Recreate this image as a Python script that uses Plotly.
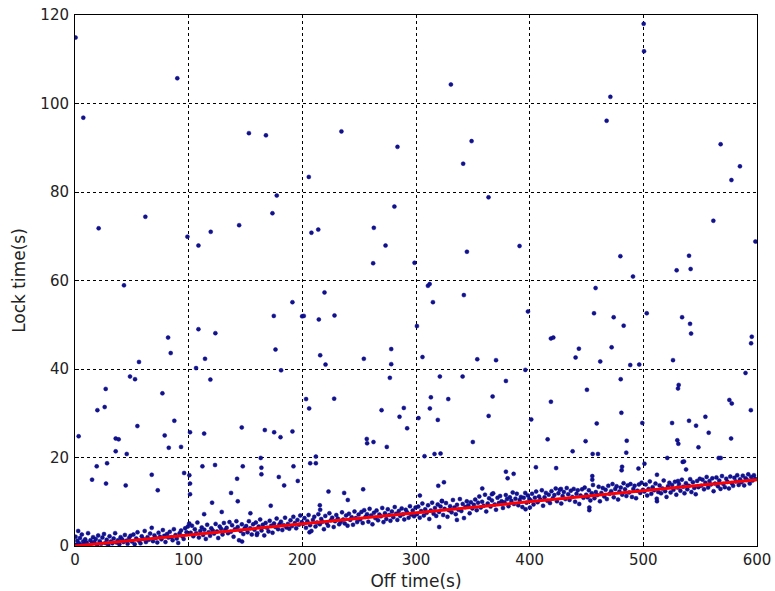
import plotly.graph_objects as go

# ---- outlier points ----
high_x = [0.5, 90, 7.3, 153, 168, 205.7, 177.5, 173.7, 61.9, 144.4, 20.8, 119.4, 98.9, 108.6, 208, 214,
          330.7, 234.4, 283.7, 348.9, 341.5, 363.8, 281, 262.9, 273.2, 262.3, 298.7, 344.8, 391.1,
          500.3, 500.6, 471, 467.7, 568, 585, 577.5, 561.6, 598.6, 479.8, 540.2, 529.3, 541.6, 490.9]
high_y = [114.9, 105.7, 96.8, 93.3, 92.8, 83.4, 79.2, 75.2, 74.4, 72.5, 71.8, 71.0, 69.9, 67.9, 70.8, 71.5,
          104.3, 93.7, 90.2, 91.5, 86.4, 78.8, 76.7, 71.9, 67.9, 63.9, 64.0, 66.5, 67.8,
          118.0, 111.8, 101.5, 96.1, 90.8, 85.8, 82.7, 73.5, 68.8, 65.5, 65.6, 62.3, 62.6, 60.9]

mid_x = [43.1, 191.3, 174.9, 108.6, 81.9, 123.5, 176.4, 84.2, 56.3, 114.4, 106.5, 48.4, 52.8, 181.3, 119.1,
         27.0, 76.9, 26.1, 19.7, 87.4, 54.9, 146.7, 3.2, 101.2, 78.9, 113.6, 167.0, 175.2, 191.3, 180.8,
         35.8, 38.4, 82.5, 93.3, 35.8, 45.5, 163.4,
         219.5, 199.8, 201.3, 214.5, 228.3, 310.5, 312.0, 342.1, 314.9, 398.5, 300.8, 278.2, 215.7, 254.1,
         220.4, 278.2, 305.7, 353.9, 370.4, 396.2, 277.0, 321.0, 341.0, 379.1, 203.3, 228.0, 313.1, 328.4,
         367.4, 206.0, 269.7, 289.3, 312.2, 285.5, 302.2, 319.2, 363.9, 292.2, 256.7, 257.0, 262.6, 274.3,
         350.0, 307.5, 316.3, 321.6, 211.9, 206.9, 211.9,
         458.0, 456.6, 503.0, 473.9, 482.7, 418.7, 420.8, 534.1, 541.1, 542.0, 595.4, 594.8, 443.3, 472.1,
         440.4, 462.1, 526.1, 488.5, 496.4, 589.9, 480.1, 531.1, 530.5, 450.4, 418.7, 575.7, 577.8, 594.6,
         480.7, 401.4, 554.6, 459.0, 499.1, 525.3, 540.2, 546.4, 557.5, 415.8, 449.2, 485.4, 529.9, 530.8,
         577.2, 548.5, 437.8, 455.4, 460.1, 485.0, 521.1, 566.3, 568.1, 501.0, 534.6, 535.8, 405.5, 423.3,
         481.3, 495.7, 537.6]
mid_y = [58.9, 55.1, 52.0, 49.0, 47.1, 48.1, 44.4, 43.6, 41.6, 42.3, 40.2, 38.3, 37.7, 39.7, 37.6,
         35.5, 34.5, 31.4, 30.7, 28.3, 27.1, 26.8, 24.8, 25.7, 25.0, 25.4, 26.2, 25.7, 25.9, 24.6,
         24.3, 24.1, 22.2, 22.4, 21.4, 20.8, 19.9,
         57.3, 51.9, 52.0, 51.2, 52.1, 58.8, 59.2, 56.7, 55.1, 53.0, 49.7, 44.5, 43.1, 42.3,
         41.0, 41.1, 42.7, 42.2, 42.0, 39.8, 38.0, 38.3, 38.3, 37.3, 33.2, 33.3, 33.6, 33.2,
         33.8, 31.1, 30.7, 31.2, 31.1, 29.2, 28.9, 28.5, 29.4, 26.6, 24.2, 23.2, 23.5, 22.4,
         23.5, 20.3, 20.8, 20.9, 20.2, 18.7, 18.7,
         58.3, 52.6, 52.6, 51.7, 49.8, 46.9, 47.1, 51.7, 50.2, 48.0, 47.3, 45.8, 44.6, 44.9,
         42.6, 41.7, 42.0, 40.9, 41.0, 39.1, 37.7, 36.4, 35.6, 35.3, 32.6, 33.0, 32.2, 30.7,
         30.1, 28.6, 29.2, 27.7, 27.8, 27.8, 28.3, 27.2, 25.6, 24.1, 23.7, 23.8, 23.9, 23.1,
         24.3, 22.3, 21.4, 20.8, 20.8, 21.1, 19.9, 19.9, 19.9, 18.6, 19.0, 19.1, 17.8, 17.6,
         17.9, 17.5, 17.3]

low_x = [15.0, 19.1, 28.2, 27.3, 44.6, 67.5, 72.8, 96.0, 100.6, 101.2, 101.2, 113.6, 112.1, 123.2, 120.6,
         142.6, 137.3, 143.2, 129.1, 147.6, 154.3, 164.0, 164.0, 172.2, 179.3, 184.0, 192.2, 196.0,
         223.0, 236.8, 240.0, 253.5, 215.4, 215.7, 303.4, 319.6, 324.6, 322.8, 358.3, 366.8, 379.1,
         380.6, 385.9, 320.4, 206.3, 480.9, 455.1, 455.1, 427.5, 512.0, 530.5, 452.5, 452.5, 396.4,
         400.2, 512.0, 147.0, 160.0, 336.0]
low_y = [15.0, 18.0, 18.7, 14.1, 13.7, 16.1, 12.6, 16.5, 16.0, 14.1, 11.7, 7.2, 18.0, 18.3, 9.8,
         15.2, 12.0, 10.1, 7.7, 18.0, 7.4, 17.7, 16.2, 9.1, 15.6, 13.7, 18.0, 14.7,
         12.3, 12.0, 10.4, 12.8, 9.2, 8.2, 11.4, 13.6, 14.4, 10.1, 13.0, 11.7, 16.8,
         15.3, 16.3, 4.3, 3.1, 17.1, 15.8, 15.0, 12.9, 16.1, 14.7, 8.7, 8.1, 8.3,
         8.7, 10.1, 1.0, 2.5, 5.9]

# ---- dense band of points along the fitted line ----
band_x = [0.5, 1.2, 2.0, 2.8, 3.5, 4.4, 5.1, 6.0, 7.2, 8.1, 9.0, 10.3, 11.5, 12.2, 13.6, 14.8, 15.9, 17.0, 18.3, 19.5,
          20.4, 21.8, 23.0, 24.1, 25.5, 26.7, 27.9, 29.2, 30.4, 31.6, 32.9, 34.0, 35.3, 36.5, 37.8, 39.0, 40.1, 41.5,
          42.6, 43.9, 45.2, 46.3, 47.6, 48.8,
          50.1, 51.4, 52.5, 53.9, 55.0, 56.2, 57.6, 58.7, 60.0, 61.3, 62.4, 63.8, 64.9, 66.1, 67.5, 68.6, 69.9, 71.0,
          72.4, 73.5, 74.8, 76.0, 77.3, 78.5, 79.6, 81.0, 82.2, 83.4, 84.7, 85.9, 87.0, 88.4, 89.5, 90.8, 92.0, 93.3,
          94.5, 95.6, 96.9, 98.1, 99.3,
          100.5, 101.8, 102.9, 104.1, 105.4, 106.6, 107.7, 109.0, 110.2, 111.5, 112.7, 113.8, 115.1, 116.3, 117.6,
          118.8, 119.9, 121.2, 122.4, 123.7, 124.9, 126.0, 127.3, 128.5, 129.8, 131.0, 132.1, 133.4, 134.6, 135.9,
          137.1, 138.2, 139.5, 140.7, 142.0, 143.2, 144.3, 145.6, 146.8, 148.1, 149.3,
          150.6, 151.8, 153.0, 154.2, 155.5, 156.7, 157.9, 159.1, 160.4, 161.6, 162.9, 164.1, 165.2, 166.5, 167.7,
          169.0, 170.2, 171.3, 172.6, 173.8, 175.1, 176.3, 177.4, 178.7, 179.9, 181.2, 182.4, 183.5, 184.8, 186.0,
          187.3, 188.5, 189.6, 190.9, 192.1, 193.4, 194.6, 195.7, 197.0, 198.2, 199.5,
          200.7, 201.9, 203.2, 204.4, 205.5, 206.8, 208.0, 209.3, 210.5, 211.6, 212.9, 214.1, 215.4, 216.6, 217.7,
          219.0, 220.2, 221.5, 222.7, 223.8, 225.1, 226.3, 227.6, 228.8, 229.9, 231.2, 232.4, 233.7, 234.9, 236.0,
          237.3, 238.5, 239.8, 241.0, 242.1, 243.4, 244.6, 245.9, 247.1, 248.2, 249.5,
          250.8, 252.0, 253.1, 254.4, 255.6, 256.9, 258.1, 259.2, 260.5, 261.7, 263.0, 264.2, 265.3, 266.6, 267.8,
          269.1, 270.3, 271.4, 272.7, 273.9, 275.2, 276.4, 277.5, 278.8, 280.0, 281.3, 282.5, 283.6, 284.9, 286.1,
          287.4, 288.6, 289.7, 291.0, 292.2, 293.5, 294.7, 295.8, 297.1, 298.3, 299.6,
          300.8, 302.0, 303.3, 304.5, 305.6, 306.9, 308.1, 309.4, 310.6, 311.7, 313.0, 314.2, 315.5, 316.7, 317.8,
          319.1, 320.3, 321.6, 322.8, 323.9, 325.2, 326.4, 327.7, 328.9, 330.0, 331.3, 332.5, 333.8, 335.0, 336.1,
          337.4, 338.6, 339.9, 341.1, 342.2, 343.5, 344.7, 346.0, 347.2, 348.3, 349.6,
          350.9, 352.1, 353.4, 354.6, 355.7, 357.0, 358.2, 359.5, 360.7, 361.8, 363.1, 364.3, 365.6, 366.8, 367.9,
          369.2, 370.4, 371.7, 372.9, 374.0, 375.3, 376.5, 377.8, 379.0, 380.1, 381.4, 382.6, 383.9, 385.1, 386.2,
          387.5, 388.7, 390.0, 391.2, 392.3, 393.6, 394.8, 396.1, 397.3, 398.4, 399.7,
          400.9, 402.1, 403.4, 404.6, 405.7, 407.0, 408.2, 409.5, 410.7, 411.8, 413.1, 414.3, 415.6, 416.8, 417.9,
          419.2, 420.4, 421.7, 422.9, 424.0, 425.3, 426.5, 427.8, 429.0, 430.1, 431.4, 432.6, 433.9, 435.1, 436.2,
          437.5, 438.7, 440.0, 441.2, 442.3, 443.6, 444.8, 446.1, 447.3, 448.4, 449.7,
          450.9, 452.1, 453.4, 454.6, 455.7, 457.0, 458.2, 459.5, 460.7, 461.8, 463.1, 464.3, 465.6, 466.8, 467.9,
          469.2, 470.4, 471.7, 472.9, 474.0, 475.3, 476.5, 477.8, 479.0, 480.1, 481.4, 482.6, 483.9, 485.1, 486.2,
          487.5, 488.7, 490.0, 491.2, 492.3, 493.6, 494.8, 496.1, 497.3, 498.4, 499.7,
          500.9, 502.1, 503.4, 504.6, 505.7, 507.0, 508.2, 509.5, 510.7, 511.8, 513.1, 514.3, 515.6, 516.8, 517.9,
          519.2, 520.4, 521.7, 522.9, 524.0, 525.3, 526.5, 527.8, 529.0, 530.1, 531.4, 532.6, 533.9, 535.1, 536.2,
          537.5, 538.7, 540.0, 541.2, 542.3, 543.6, 544.8, 546.1, 547.3, 548.4, 549.7,
          550.9, 552.1, 553.4, 554.6, 555.7, 557.0, 558.2, 559.5, 560.7, 561.8, 563.1, 564.3, 565.6, 566.8, 567.9,
          569.2, 570.4, 571.7, 572.9, 574.0, 575.3, 576.5, 577.8, 579.0, 580.1, 581.4, 582.6, 583.9, 585.1, 586.2,
          587.5, 588.7, 590.0, 591.2, 592.3, 593.6, 594.8, 596.1, 597.3, 598.4]
band_y = [2.1, 0.3, 1.2, 3.4, 0.6, 1.8, 0.2, 2.6, 1.0, 0.4, 1.5, 0.8, 2.9, 0.1, 1.3, 0.6, 2.0, 0.9, 1.6, 0.3,
          2.4, 1.1, 0.5, 1.9, 2.7, 0.7, 1.4, 0.2, 2.2, 1.0, 0.6, 1.7, 2.9, 0.8, 1.3, 0.4, 2.0, 1.5,
          0.9, 2.5, 1.2, 0.5, 1.8, 2.3,
          1.0, 2.6, 0.4, 1.7, 3.1, 1.2, 0.6, 2.2, 1.6, 3.4, 0.9, 2.0, 1.4, 2.8, 4.1, 1.1, 2.4, 1.8,
          0.8, 3.0, 2.1, 1.5, 3.6, 2.3, 0.9, 2.7, 1.9, 3.2, 2.0, 1.3, 3.8, 2.5, 1.7, 0.7, 2.9, 3.5,
          2.2, 1.6, 4.0, 3.1, 4.4,
          5.1, 3.0, 4.6, 2.2, 3.8, 2.9, 5.3, 1.9, 3.4, 4.2, 2.5, 3.7, 1.6, 4.8, 3.1,
          2.3, 4.0, 3.5, 2.8, 5.0, 3.3, 1.8, 4.4, 3.9, 2.6, 5.2, 3.6, 4.1, 2.9, 5.4,
          3.2, 4.7, 2.1, 3.8, 5.6, 4.3, 1.3, 3.4, 4.9, 2.7, 4.0,
          4.5, 3.1, 5.6, 4.0, 2.6, 4.9, 3.7, 5.3, 2.9, 4.4, 6.0, 3.5, 4.8, 2.4, 5.2,
          4.1, 3.3, 5.7, 4.6, 3.0, 5.1, 4.3, 6.2, 3.8, 4.9, 5.5, 3.6, 4.7, 6.4, 4.2,
          5.0, 3.9, 5.8, 4.5, 6.6, 5.2, 4.0, 5.9, 4.8, 6.9, 5.4,
          5.0, 6.3, 4.1, 5.6, 7.0, 4.7, 3.4, 5.9, 6.6, 4.4, 5.3, 7.2, 4.9, 6.1, 5.5,
          3.8, 6.8, 5.2, 4.6, 7.4, 5.8, 6.4, 4.3, 5.6, 7.0, 6.2, 4.9, 5.4, 7.6, 6.0,
          5.1, 6.9, 4.6, 7.3, 5.9, 6.5, 4.8, 7.8, 6.3, 5.4, 7.1,
          6.0, 7.7, 5.2, 8.1, 6.6, 7.2, 5.5, 8.4, 6.9, 4.9, 7.5, 6.3, 8.0, 5.8, 7.1,
          6.7, 8.6, 5.4, 7.4, 6.1, 8.3, 7.0, 5.7, 7.8, 6.5, 8.8, 7.3, 5.9, 7.9, 6.8,
          8.5, 7.2, 6.0, 8.2, 7.6, 6.4, 9.0, 7.1, 8.0, 6.7, 8.7,
          7.2, 8.9, 6.4, 7.9, 9.6, 6.9, 8.3, 7.5, 9.2, 6.1, 8.0, 9.8, 7.3, 8.6, 6.8,
          9.4, 7.7, 8.9, 10.2, 7.0, 8.4, 9.7, 6.6, 8.1, 9.0, 7.6, 10.4, 8.7, 7.2, 9.3,
          8.2, 10.6, 7.9, 9.5, 6.3, 8.8, 10.1, 9.2, 7.4, 9.9, 8.5,
          9.3, 10.5, 8.1, 9.8, 11.2, 8.7, 10.0, 9.1, 11.6, 7.8, 9.6, 10.8, 8.9, 10.3, 11.9,
          9.4, 8.2, 10.9, 9.7, 11.3, 10.1, 8.6, 9.9, 11.5, 10.6, 9.0, 11.0, 10.2, 12.1, 9.5,
          10.7, 11.8, 9.2, 10.4, 11.1, 8.8, 10.9, 12.0, 9.8, 11.4, 10.6,
          10.3, 11.8, 9.4, 10.9, 12.3, 9.9, 11.2, 10.5, 12.6, 9.1, 11.0, 12.0, 10.2, 11.6, 9.7,
          12.4, 10.8, 11.5, 13.0, 10.1, 11.9, 12.7, 9.6, 11.3, 12.2, 10.6, 13.1, 11.7, 10.4, 12.5,
          11.1, 12.9, 10.0, 11.8, 12.6, 9.5, 11.4, 12.8, 10.9, 13.2, 11.6,
          11.0, 12.6, 10.3, 11.9, 13.8, 10.8, 12.2, 11.5, 13.4, 10.1, 12.0, 13.1, 11.2, 12.7, 10.6,
          13.6, 11.8, 12.4, 14.0, 11.0, 12.9, 13.5, 10.5, 12.3, 13.2, 11.6, 14.2, 12.8, 11.3, 13.7,
          12.1, 14.0, 11.1, 12.9, 13.6, 10.8, 12.5, 13.9, 12.0, 14.3, 12.7,
          12.3, 13.9, 11.4, 12.9, 14.6, 11.8, 13.3, 12.6, 14.1, 10.7, 12.2, 13.7, 11.9, 13.0, 14.8,
          12.4, 11.1, 13.5, 14.3, 12.1, 13.8, 12.7, 14.5, 11.6, 13.2, 14.0, 12.5, 15.0, 13.4, 11.9,
          14.2, 12.8, 13.6, 15.1, 12.2, 14.4, 13.1, 11.7, 14.7, 13.3, 15.2,
          13.6, 15.0, 12.8, 14.3, 15.6, 13.2, 14.7, 13.9, 15.3, 12.4, 14.1, 15.5, 13.5, 14.8, 12.9,
          15.8, 14.0, 13.3, 15.2, 14.5, 13.0, 15.7, 14.2, 13.6, 15.4, 14.6, 16.0, 13.8, 15.1, 14.4,
          15.9, 13.7, 15.3, 14.9, 16.2, 14.1, 15.6, 14.8, 16.0, 15.2]

# ---- fitted line ----
fit_x = [0, 600]
fit_y = [0, 15]

x_ticks = [0, 100, 200, 300, 400, 500, 600]
y_ticks = [0, 20, 40, 60, 80, 100, 120]

all_x = high_x + mid_x + low_x + band_x
all_y = high_y + mid_y + low_y + band_y

fig = go.Figure()
fig.add_trace(go.Scatter(
    x=all_x, y=all_y, mode="markers",
    marker=dict(size=4, color="#14147f", line=dict(width=0.5, color="#0000aa")),
    hoverinfo="x+y", showlegend=False, cliponaxis=True))
fig.add_trace(go.Scatter(
    x=fit_x, y=fit_y, mode="lines",
    line=dict(color="#ff0000", width=3), showlegend=False))

tick_font = dict(family="DejaVu Sans", size=15, color="#222222")
title_font = dict(family="DejaVu Sans", size=17, color="#222222")

axis_common = dict(
    showline=True, linecolor="#000000", linewidth=1, mirror=True,
    showgrid=True, gridcolor="#000000", gridwidth=1, griddash="dot",
    zeroline=False, ticks="inside", ticklen=4, tickcolor="#000000",
    tickfont=tick_font, automargin=False,
)

fig.update_xaxes(range=[0, 600], tickvals=x_ticks, ticklabelstandoff=0,
                 title=dict(text="Off time(s)", font=title_font, standoff=7),
                 **axis_common)
fig.update_yaxes(range=[0, 120], tickvals=y_ticks, ticklabelstandoff=2,
                 title=dict(text="Lock time(s)", font=title_font, standoff=10),
                 **axis_common)

fig.update_layout(
    width=775, height=591,
    margin=dict(l=75, r=18, t=15, b=45),
    plot_bgcolor="white", paper_bgcolor="white",
    font=dict(family="DejaVu Sans"),
)

fig.write_html("out.html",
               config={"displayModeBar": False},
               post_script="document.body.style.margin='0';document.body.style.overflow='hidden';")
